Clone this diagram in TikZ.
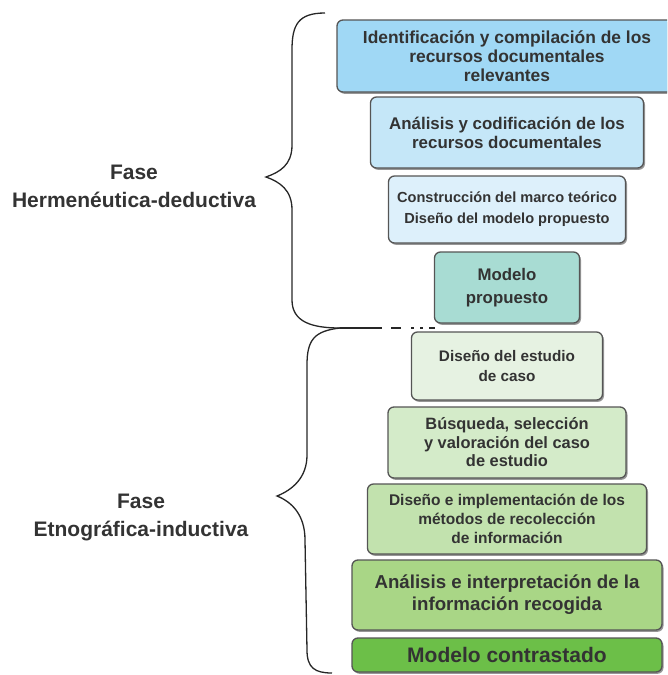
\documentclass[tikz,border=0pt]{standalone}
\usepackage{fontspec}
\setmainfont{Liberation Sans}
\usepackage{tikz}
\usetikzlibrary{positioning,shadows}
\definecolor{skyblue}{HTML}{A0D8F5}
\definecolor{paleblue}{HTML}{C5E7F8}
\definecolor{iceblue}{HTML}{DDF0FB}
\definecolor{softteal}{HTML}{A8DCD3}
\definecolor{mintgreen}{HTML}{E6F2E2}
\definecolor{palegreen}{HTML}{D4EBC9}
\definecolor{softgreen}{HTML}{C2E2AE}
\definecolor{midgreen}{HTML}{A9D686}
\definecolor{deepgreen}{HTML}{6CBF48}
\definecolor{inkgray}{HTML}{333333}
\definecolor{rimgray}{HTML}{555555}

\begin{document}
\begin{tikzpicture}[x=1pt, y=-1pt,
  every node/.style={align=center, text=inkgray, font=\bfseries},
  stage/.style={draw=rimgray, line width=1.3pt, rounded corners=6pt, inner sep=2pt, outer sep=0pt,
    drop shadow={shadow xshift=1.5pt, shadow yshift=-1.8pt, opacity=0.55, fill=black!75}},
  phase/.style={font=\bfseries\fontsize{21}{28}\selectfont},
  brace/.style={line width=1.3pt, draw=black!85}]
  \useasboundingbox (0,0) rectangle (667,675);
  \clip (0,0) rectangle (667,675);
  \node[stage, fill=skyblue, minimum width=340pt, minimum height=72pt, font=\bfseries\fontsize{17.4}{19}\selectfont] (idcomp) at (507,56) {Identificación y compilación de los\\recursos documentales\\relevantes};
  \node[stage, fill=paleblue, below=5pt of idcomp, minimum width=273pt, minimum height=71pt, font=\bfseries\fontsize{16.9}{19}\selectfont] (analcod) {Análisis y codificación de los\\recursos documentales};
  \node[stage, fill=iceblue, below=8pt of analcod, minimum width=237pt, minimum height=67pt, font=\bfseries\fontsize{14.6}{21}\selectfont] (marco) {Construcción del marco teórico\\Diseño del modelo propuesto};
  \node[stage, fill=softteal, below=9pt of marco, minimum width=145pt, minimum height=71pt, font=\bfseries\fontsize{16.8}{23}\selectfont] (modprop) {Modelo\\propuesto};
  \node[stage, fill=mintgreen, below=9pt of modprop, minimum width=191pt, minimum height=68pt, font=\bfseries\fontsize{15.3}{20}\selectfont] (disest) {Diseño del estudio\\de caso};
  \node[stage, fill=palegreen, below=7pt of disest, minimum width=238pt, minimum height=71pt, font=\bfseries\fontsize{16.4}{18.5}\selectfont] (busq) {Búsqueda, selección\\y valoración del caso\\de estudio};
  \node[stage, fill=softgreen, below=6pt of busq, minimum width=279pt, minimum height=70pt, font=\bfseries\fontsize{15.5}{19}\selectfont] (metodos) {Diseño e implementación de los\\métodos de recolección\\de información};
  \node[stage, fill=midgreen, below=6pt of metodos, minimum width=310pt, minimum height=70pt, font=\bfseries\fontsize{18.7}{22}\selectfont] (interp) {Análisis e interpretación de la\\información recogida};
  \node[stage, fill=deepgreen, below=8pt of interp, minimum width=310pt, minimum height=34pt, font=\bfseries\fontsize{21}{22}\selectfont] (modcont) {Modelo contrastado};
  % phases on the left
  \node[phase] (herm) at (134,186) {Fase\\Hermenéutica-deductiva};
  \node[phase] (etno) at (141,517) {Fase\\Etnográfica-inductiva};
  % braces
  \coordinate (join) at (340,328);
  \coordinate (tail) at (370,328);
  \draw[brace] (325,13) .. controls (298,13) and (292,25) .. (292,50) -- (292,145) .. controls (292,165) and (280,172) .. (266,177) .. controls (280,182) and (292,190) .. (292,210) -- (292,300) .. controls (292,322) and (312,328) .. (join);
  \draw[brace] (join) .. controls (314,331) and (307,340) .. (307,365) -- (307,455) .. controls (307,478) and (292,490) .. (277,496) .. controls (292,502) and (305,515) .. (305,540) -- (307,650) .. controls (307,668) and (315,673) .. (332,673);
  \draw[brace] (join) -- (tail);
  \draw[line width=1.8pt, draw=black!85, dash pattern=on 12pt off 9pt on 10pt off 10pt on 3pt off 6pt on 3pt off 6pt] (tail) -- (tail -| modprop.west);
\end{tikzpicture}
\end{document}
